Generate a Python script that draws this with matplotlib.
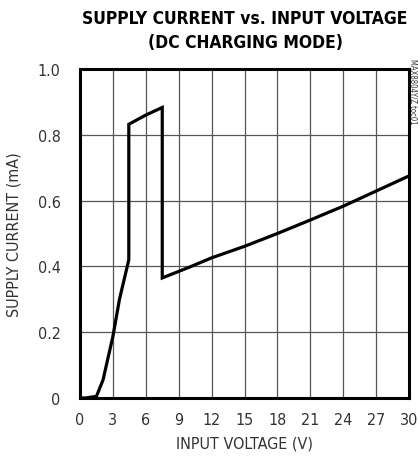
import matplotlib
matplotlib.use('Agg')
import matplotlib.pyplot as plt

# supply current vs input voltage
volts = [0.0, 0.5, 1.5, 2.1, 3.0, 3.6, 4.45, 4.45, 6.0, 7.5, 7.5, 10.0, 12.0, 15.0, 18.0, 21.0, 24.0, 27.0, 30.0]
current = [0.0, 0.0, 0.005, 0.055, 0.187, 0.30, 0.42, 0.832, 0.86, 0.883, 0.365, 0.398, 0.426, 0.461, 0.50, 0.541, 0.583, 0.629, 0.675]

x_ticks = [0, 3, 6, 9, 12, 15, 18, 21, 24, 27, 30]
y_ticks = [0, 0.2, 0.4, 0.6, 0.8, 1.0]
y_labels = ['0', '0.2', '0.4', '0.6', '0.8', '1.0']

plt.rcParams['font.family'] = ['DejaVu Sans']
plt.rcParams['font.stretch'] = 'condensed'

fig = plt.figure(figsize=(4.18, 4.60), dpi=100)
ax = fig.add_axes([80 / 418, 61 / 460, 329 / 418, 329 / 460])

ax.plot(volts, current, color='black', lw=2.3, solid_joinstyle='miter')
ax.set_xlim(0, 30)
ax.set_ylim(0, 1.0)
ax.set_xticks(x_ticks)
ax.set_yticks(y_ticks)
ax.set_yticklabels(y_labels)
ax.grid(True, color='#555555', lw=0.9)
ax.set_axisbelow(True)
ax.tick_params(length=0, labelsize=11.5, colors='#333333')
ax.tick_params(axis='x', pad=10)
ax.tick_params(axis='y', pad=14)
for s in ax.spines.values():
    s.set_linewidth(2.2)

ax.set_xlabel('INPUT VOLTAGE (V)', fontsize=11.5, color='#333333', labelpad=6)
ax.set_ylabel('SUPPLY CURRENT (mA)', fontsize=11.5, color='#333333', labelpad=12)

fig.text(245 / 418, 1 - 19 / 460, 'SUPPLY CURRENT vs. INPUT VOLTAGE', ha='center', va='center',
         fontsize=12.5, fontweight='bold')
fig.text(245 / 418, 1 - 43 / 460, '(DC CHARGING MODE)', ha='center', va='center',
         fontsize=12.5, fontweight='bold')
fig.text(413 / 418, 1 - 92 / 460, 'MAX8804Y/Z toc01', rotation=270, ha='center', va='center',
         fontsize=5.5, color='#333333')

fig.savefig('out.png', dpi=100)
